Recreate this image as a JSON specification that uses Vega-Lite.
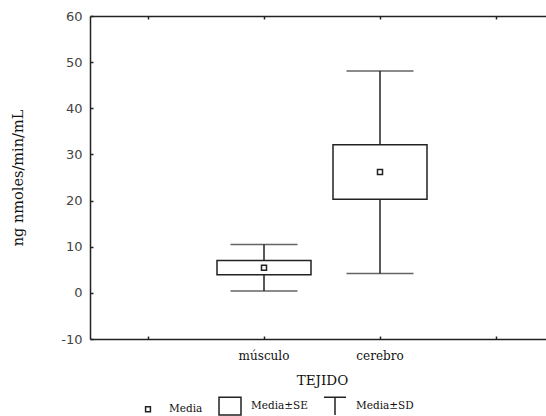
{
  "$schema": "https://vega.github.io/schema/vega-lite/v6.json",
  "autosize": {"type": "none"},
  "padding": {"left": 90, "top": 16, "right": 0, "bottom": 77},
  "width": 456,
  "height": 323,
  "background": "white",
  "config": {"view": {"stroke": null}, "font": "DejaVu Serif"},
  "data": {"values": [
    {"TEJIDO": "músculo", "mean": 5.45, "se_lo": 3.9, "se_hi": 7.0, "sd_lo": 0.4, "sd_hi": 10.5},
    {"TEJIDO": "cerebro", "mean": 26.2, "se_lo": 20.3, "se_hi": 32.1, "sd_lo": 4.2, "sd_hi": 48.1}
  ]},
  "resolve": {"axis": {"x": "independent"}},
  "layer": [
    {
      "mark": {"type": "rule", "stroke": "#222", "strokeWidth": 1.5},
      "encoding": {
        "x": {"field": "TEJIDO", "type": "nominal",
          "scale": {"domain": ["a", "músculo", "cerebro", "b"], "range": [0, 464], "paddingInner": 0, "paddingOuter": 0},
          "axis": {"orient": "bottom", "labelExpr": "datum.value == 'a' || datum.value == 'b' ? '' : datum.value",
            "labelAngle": 0, "labelFont": "DejaVu Serif", "labelFontSize": 12, "labelColor": "#111", "labelPadding": 14,
            "tickSize": -3, "tickColor": "#222", "tickWidth": 1.5, "domainColor": "#222", "domainWidth": 1.5,
            "title": "TEJIDO", "titleFont": "DejaVu Serif", "titleFontSize": 13.5, "titleFontWeight": "normal", "titleColor": "#111",
            "titleX": 232, "titleY": 41, "titleBaseline": "middle", "titleAlign": "center", "grid": false}},
        "y": {"field": "sd_lo", "type": "quantitative",
          "scale": {"domain": [-10, 60], "nice": false, "zero": false},
          "axis": {"values": [-10, 0, 10, 20, 30, 40, 50, 60], "labelExpr": "'' + datum.value", "tickSize": -3, "tickColor": "#222", "tickWidth": 1.5,
            "domainColor": "#222", "domainWidth": 1.5, "labelFont": "DejaVu Sans", "labelFontSize": 13, "labelColor": "#444",
            "labelPadding": 11, "grid": false,
            "title": "ng nmoles/min/mL", "titleFont": "DejaVu Serif", "titleFontSize": 14.5, "titleFontWeight": "normal", "titleColor": "#111",
            "titleX": -72, "titleY": 161.5, "titleAngle": 270, "titleBaseline": "middle", "titleAlign": "center"}},
        "y2": {"field": "sd_hi"}
      }
    },
    {
      "mark": {"type": "tick", "orient": "horizontal", "size": 67, "thickness": 1.5, "color": "#222"},
      "encoding": {
        "x": {"field": "TEJIDO", "type": "nominal",
          "axis": {"orient": "top", "labels": false, "title": null, "tickSize": -3, "tickColor": "#222", "tickWidth": 1.5,
            "domainColor": "#222", "domainWidth": 1.5, "grid": false}},
        "y": {"field": "sd_lo", "type": "quantitative"}
      }
    },
    {
      "mark": {"type": "tick", "orient": "horizontal", "size": 67, "thickness": 1.5, "color": "#222"},
      "encoding": {
        "x": {"field": "TEJIDO", "type": "nominal", "axis": null},
        "y": {"field": "sd_hi", "type": "quantitative"}
      }
    },
    {
      "mark": {"type": "bar", "size": 94, "fill": "white", "stroke": "#222", "strokeWidth": 1.5},
      "encoding": {
        "x": {"field": "TEJIDO", "type": "nominal", "axis": null},
        "y": {"field": "se_lo", "type": "quantitative"},
        "y2": {"field": "se_hi"}
      }
    },
    {
      "mark": {"type": "point", "filled": false, "size": 520, "stroke": "#222", "strokeWidth": 1.5, "opacity": 1},
      "encoding": {
        "x": {"field": "TEJIDO", "type": "nominal", "axis": null},
        "y": {"field": "mean", "type": "quantitative"},
        "shape": {"datum": "Media",
          "scale": {"domain": ["Media", "Media±SE", "Media±SD"],
            "range": ["M-0.22,-0.22H0.22V0.22H-0.22Z", "M-1,-0.8H1V0.8H-1Z", "M-1,-0.8H1M0,-0.8V0.8"]},
          "legend": {"orient": "none", "legendX": 46, "legendY": 378, "direction": "horizontal", "title": null,
            "labelFont": "DejaVu Serif", "labelFontSize": 10.5, "labelColor": "#111", "symbolSize": 484,
            "symbolStrokeWidth": 1.5, "symbolStrokeColor": "#222", "symbolFillColor": "transparent",
            "labelOffset": 9, "columnPadding": 13}}
      }
    }
  ]
}
